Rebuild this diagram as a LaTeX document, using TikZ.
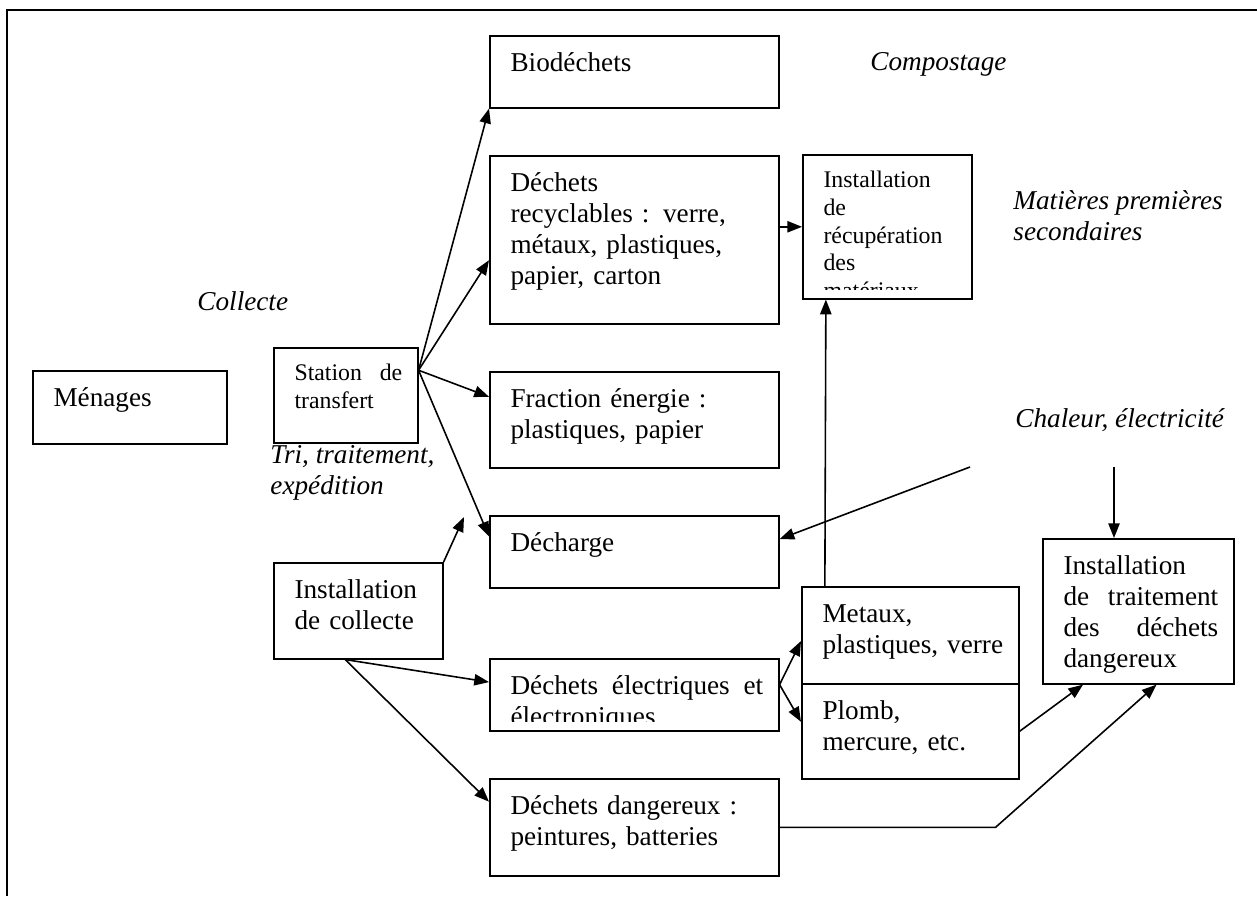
\documentclass[tikz,border=0pt]{standalone}
\usepackage{fontspec}
\setmainfont{Liberation Serif}
\usetikzlibrary{arrows.meta,calc}

\newcommand{\bigtxt}{\fontsize{12}{13.7}\selectfont}
\newcommand{\smalltxt}{\fontsize{10.5}{12.2}\selectfont}

\tikzset{
  % text set inside the box, clipped a little above its lower edge
  boxtext/.style 2 args={path picture={
      \clip ([yshift=4pt]path picture bounding box.south west)
        rectangle (path picture bounding box.north east);
      \path let \p1=(path picture bounding box.south west),
                \p2=(path picture bounding box.north east),
                \n1={\x2-\x1-16pt} in
        node[anchor=north west, inner sep=0pt, minimum width=0pt, minimum height=0pt,
             align=left, text width=\n1, font=#1]
          at (\x1+8.8pt,\y2-5.7pt) {\strut #2};}},
  box/.style={draw, line width=0.7pt, anchor=north west, inner sep=0pt, boxtext={\bigtxt}{#1}},
  sbox/.style={draw, line width=0.7pt, anchor=north west, inner sep=0pt, boxtext={\smalltxt}{#1}},
  note/.style={anchor=north west, inner sep=0pt, align=left, font=\bigtxt\itshape,
               execute at begin node=\strut},
  arr/.style={-{Triangle[length=6.5pt,width=5pt]}, line width=0.7pt},
}

\begin{document}
\begin{tikzpicture}[x=0.0155cm, y=-0.0155cm]
\useasboundingbox (0,0) rectangle (1257,896);

% frame (only top and left edges fall on the page)
\draw[line width=0.7pt] (1257,10) -- (7,10) -- (7,896);

% ---------------- BOXES (top left corner, px grid) ----------------
\node[box={Ménages}, minimum width=3.007cm, minimum height=1.132cm] (menages) at (32,370) {};
\node[sbox={Station\hfill de\\transfert}, minimum width=2.232cm, minimum height=1.473cm] (station) at (273,347) {};
\node[box={Installation\\de collecte}, minimum width=2.62cm, minimum height=1.488cm] (collecte) at (273,562) {};

\node[box={Biodéchets}, minimum width=4.48cm, minimum height=1.116cm] (bio) at (489,35) {};
\node[box={Déchets\\recyclables : verre,\\métaux, plastiques,\\papier, carton},
      minimum width=4.48cm, minimum height=2.604cm] (recyc) at (489,155) {};
\node[box={Fraction énergie :\\plastiques, papier}, minimum width=4.48cm, minimum height=1.488cm] (fraction) at (489,371) {};
\node[box={Décharge}, minimum width=4.48cm, minimum height=1.116cm] (decharge) at (489,515) {};
\node[box={Déchets\hfill électriques\hfill et\\électroniques}, minimum width=4.48cm, minimum height=1.116cm] (elec) at (489,658) {};
\node[box={Déchets dangereux :\\peintures, batteries}, minimum width=4.48cm, minimum height=1.504cm] (danger) at (489,778) {};

\node[sbox={Installation\\de\\récupération\\des\\matériaux}, minimum width=2.62cm, minimum height=2.232cm] (recup) at (802,154) {};
\node[box={Metaux,\\plastiques, verre}, minimum width=3.364cm, minimum height=1.504cm] (metaux) at (801,586) {};
\node[box={Plomb,\\mercure, etc.}, minimum width=3.364cm, minimum height=1.473cm] (plomb) at (801,683) {};
\node[box={Installation\\de\hfill traitement\\des\hfill déchets\\dangereux}, minimum width=2.961cm, minimum height=2.248cm] (traite) at (1042,538) {};

% ---------------- ITALIC LABELS ----------------
\node[note] (compost) at (870,48) {Compostage};
\node[note] (mps) at (1013,190) {Matières premières\\secondaires};
\node[note] (collab) at (197,288) {Collecte};
\node[note] (trilab) at (270,445) {Tri, traitement,\\expédition};
\node[note] (chalab) at (1015,405) {Chaleur, électricité};

% ---------------- ARROWS ----------------
\draw[arr] (station.19) -- (bio.south west);
\draw[arr] (station.19) -- (recyc.188);
\draw[arr] (station.19) -- (fraction.171);
\draw[arr] (station.19) -- (decharge.174);

\coordinate (triend) at (464,517);
\draw[arr] (collecte.north east) -- (triend);
\draw[arr] (collecte.255) -- (elec.175);
\draw[arr] (collecte.255) -- (danger.170);

\draw[arr] (recyc.east |- recup.west) -- (recup.west);
\draw[arr] ([xshift=0.37cm]metaux.north west) -- ([xshift=0.37cm]recup.south west);

\coordinate (incin) at (970,467);
\draw[arr] (incin) -- (decharge.5);
\coordinate (chaleur) at (1114,467);
\draw[arr] (chaleur) -- (chaleur |- traite.north);

\draw[arr] (elec.4) -- (metaux.183);
\draw[arr] (elec.4) -- (plomb.175);
\draw[arr] (plomb.east) -- (traite.233);
\draw[arr] (danger.east) -- ++(216,0) -- (traite.284);
\end{tikzpicture}
\end{document}
